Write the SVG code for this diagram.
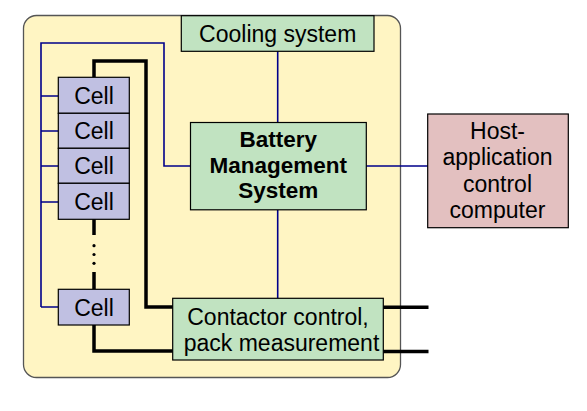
<svg xmlns="http://www.w3.org/2000/svg" width="587" height="411" viewBox="0 0 587 411">
<style>
.t{font-family:"Liberation Sans",Arial,sans-serif;font-size:23px;fill:#000;text-anchor:middle}
.b{font-weight:bold;font-size:22.5px}
.cell{fill:#c0c0e2;stroke:#000;stroke-width:1.2}
.green{fill:#c1e3c1;stroke:#000;stroke-width:1.2}
.blue{fill:none;stroke:#00008b;stroke-width:1.6}
.thick{fill:none;stroke:#000;stroke-width:3.5}
</style>
<rect width="587" height="411" fill="#fff"/>
<g id="pack">
<rect x="23.5" y="15.5" width="377" height="362" rx="13" fill="#fff5c3" stroke="#555" stroke-width="1.3"/>
</g>
<g id="connectors">
<path class="blue" d="M41,307 V43 H164 V166 H190"/>
<path class="blue" d="M41,96 H58 M41,131 H58 M41,166 H58 M41,202 H58 M41,307 H58"/>
<path class="blue" d="M277.7,51 V122 M277.7,210 V298 M366,166 H428"/>
<path class="thick" d="M94,77 V61 H146 V307 H173"/>
<path class="thick" d="M94,219 V235 M94,272 V289"/>
<path class="thick" d="M94,325 V351 H173"/>
<path class="thick" d="M383,307.3 H428.5 M383,351.5 H428.5"/>
<circle cx="94" cy="245.7" r="1.6" fill="#000"/>
<circle cx="94" cy="254.5" r="1.6" fill="#000"/>
<circle cx="94" cy="263.3" r="1.6" fill="#000"/>
</g>
<g id="cooling">
<rect class="green" x="181.3" y="15.7" width="192.7" height="35.6"/>
<text class="t" x="277.7" y="41.5">Cooling system</text>
</g>
<g id="cell1"><rect class="cell" x="58.3" y="77.3" width="71" height="36"/><text class="t" x="94" y="103.5">Cell</text></g>
<g id="cell2"><rect class="cell" x="58.3" y="113.3" width="71" height="35"/><text class="t" x="94" y="139">Cell</text></g>
<g id="cell3"><rect class="cell" x="58.3" y="148.3" width="71" height="35"/><text class="t" x="94" y="174">Cell</text></g>
<g id="cell4"><rect class="cell" x="58.3" y="183.3" width="71" height="36"/><text class="t" x="94" y="209.5">Cell</text></g>
<g id="cellN"><rect class="cell" x="58.3" y="289.3" width="71" height="35.7"/><text class="t" x="94" y="315.5">Cell</text></g>
<g id="bms">
<rect class="green" x="190.5" y="122.5" width="175.8" height="87.3" stroke-width="3"/>
<text class="t b" x="278.3" y="147.3">Battery</text>
<text class="t b" x="278.3" y="173.3">Management</text>
<text class="t b" x="278.3" y="198.3">System</text>
</g>
<g id="host">
<rect x="427.7" y="114" width="140.6" height="113.7" fill="#e3c0c0" stroke="#000" stroke-width="1.2"/>
<text class="t" x="497.5" y="139">Host-</text>
<text class="t" x="497.5" y="165">application</text>
<text class="t" x="497.5" y="191.5">control</text>
<text class="t" x="497.5" y="218">computer</text>
</g>
<g id="contactor">
<rect class="green" x="172.7" y="298.3" width="210.6" height="61.7"/>
<text class="t" x="278" y="325">Contactor control,</text>
<text class="t" x="281.5" y="350.7">pack measurement</text>
</g>
</svg>
